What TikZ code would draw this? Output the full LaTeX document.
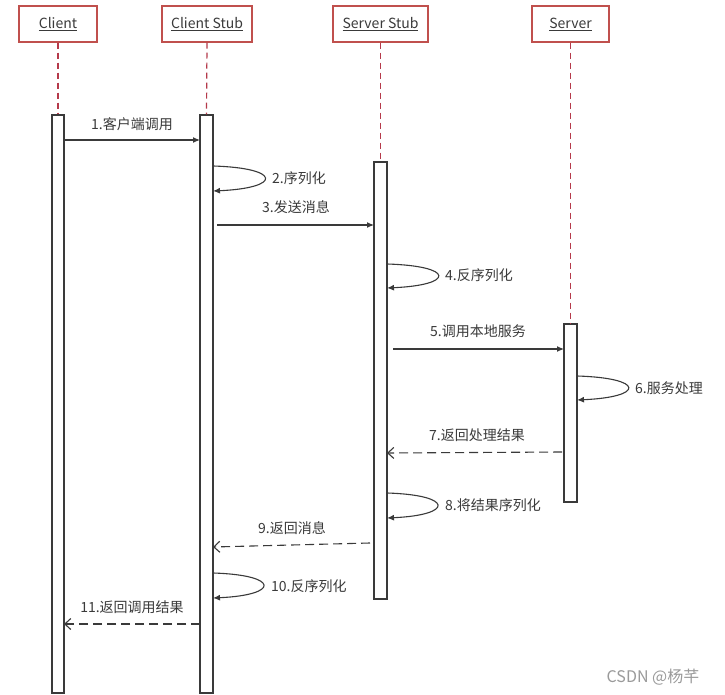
\documentclass[tikz,border=0pt]{standalone}
\usepackage{fontspec}
\setmainfont{Noto Sans CJK SC}
\usetikzlibrary{arrows.meta}
\definecolor{boxred}{HTML}{C0504D}
\definecolor{lifered}{HTML}{B5394A}
\definecolor{ink}{HTML}{3A3A3A}
\definecolor{wm}{HTML}{9A9A9A}
\begin{document}
\begin{tikzpicture}[x=1pt,y=-1pt,
  hdr/.style={draw=boxred,line width=1.2pt,fill=white,minimum height=36pt,inner sep=0pt,
    text=ink,font=\fontsize{14}{16}\selectfont},
  actbar/.style={draw=ink,line width=1.2pt,fill=white,inner sep=0pt},
  life/.style={draw=lifered,line width=1.2pt,dash pattern=on 6pt off 4pt},
  msg/.style={draw=ink,line width=1.1pt,-{Latex[length=7pt,width=6pt]}},
  ret/.style={draw=ink,line width=1.1pt,dash pattern=on 9pt off 5pt,-{Straight Barb[length=6pt,width=11pt]}},
  selfmsg/.style={draw=ink,line width=1.1pt,-{Latex[length=7pt,width=6pt]}},
  lbl/.style={text=ink,inner sep=0pt,font=\fontsize{14}{16}\selectfont}]
\useasboundingbox[fill=white] (0,0) rectangle (725,695);
% headers
\node[hdr,minimum width=78pt] (client) at (58,24) {\underline{Client}};
\node[hdr,minimum width=90pt] (cstub) at (207,24) {\underline{Client Stub}};
\node[hdr,minimum width=95pt] (sstub) at (380.5,24) {\underline{Server Stub}};
\node[hdr,minimum width=77pt] (server) at (570.5,24) {\underline{Server}};
% activation bars
\node[actbar,minimum width=12pt,minimum height=578pt] (b1) at (58,404) {};
\node[actbar,minimum width=13pt,minimum height=578pt] (b2) at (206.5,404) {};
\node[actbar,minimum width=13pt,minimum height=437pt] (b3) at (380.5,380.5) {};
\node[actbar,minimum width=13pt,minimum height=178pt] (b4) at (570.5,413) {};
% lifelines
\draw[life] (client.south) -- (b1.north);
\draw[life] (cstub.south) -- (b2.north);
\draw[life] (sstub.south) -- (b3.north);
\draw[life] (server.south) -- (b4.north);
% message end points
\coordinate (m1s) at (64,140);   \coordinate (m1e) at (200,140);
\coordinate (m2s) at (213,166);  \coordinate (m2e) at (213,191);
\coordinate (m3s) at (217,225);  \coordinate (m3e) at (374,225);
\coordinate (m4s) at (387,264);  \coordinate (m4e) at (387,288);
\coordinate (m5s) at (393,349);  \coordinate (m5e) at (564,349);
\coordinate (m6s) at (577,376);  \coordinate (m6e) at (577,400);
\coordinate (m7s) at (562,452);  \coordinate (m7e) at (387,453);
\coordinate (m8s) at (387,493);  \coordinate (m8e) at (387,518);
\coordinate (m9s) at (370,543);  \coordinate (m9e) at (213,547);
\coordinate (m10s) at (213,573); \coordinate (m10e) at (213,598);
\coordinate (m11s) at (200,624); \coordinate (m11e) at (64,624);
% messages
\draw[msg] (m1s) -- (m1e);
\draw[selfmsg] (m2s) .. controls (282,168) and (282,188) .. (m2e);
\draw[msg] (m3s) -- (m3e);
\draw[selfmsg] (m4s) .. controls (455,266) and (455,285) .. (m4e);
\draw[msg] (m5s) -- (m5e);
\draw[selfmsg] (m6s) .. controls (645,378) and (645,397) .. (m6e);
\draw[ret] (m7s) -- (m7e);
\draw[selfmsg] (m8s) .. controls (454,495) and (454,515) .. (m8e);
\draw[ret] (m9s) -- (m9e);
\draw[selfmsg] (m10s) .. controls (280,575) and (280,595) .. (m10e);
\draw[ret] (m11s) -- (m11e);
% labels
\node[lbl] (l1) at (132,124) {1.客户端调用};
\node[lbl,anchor=west] (l2) at (272,178) {2.序列化};
\node[lbl] (l3) at (296,207) {3.发送消息};
\node[lbl,anchor=west] (l4) at (445,275) {4.反序列化};
\node[lbl] (l5) at (478,331) {5.调用本地服务};
\node[lbl,anchor=west] (l6) at (635,388) {6.服务处理};
\node[lbl] (l7) at (477,435) {7.返回处理结果};
\node[lbl,anchor=west] (l8) at (445,505) {8.将结果序列化};
\node[lbl] (l9) at (292,528) {9.返回消息};
\node[lbl,anchor=west] (l10) at (271,586) {10.反序列化};
\node[lbl] (l11) at (132,607) {11.返回调用结果};
% watermark
\node[text=wm,inner sep=0pt,font=\fontsize{16}{18}\selectfont] (wmark) at (653,677) {CSDN @杨芊};
\end{tikzpicture}
\end{document}
